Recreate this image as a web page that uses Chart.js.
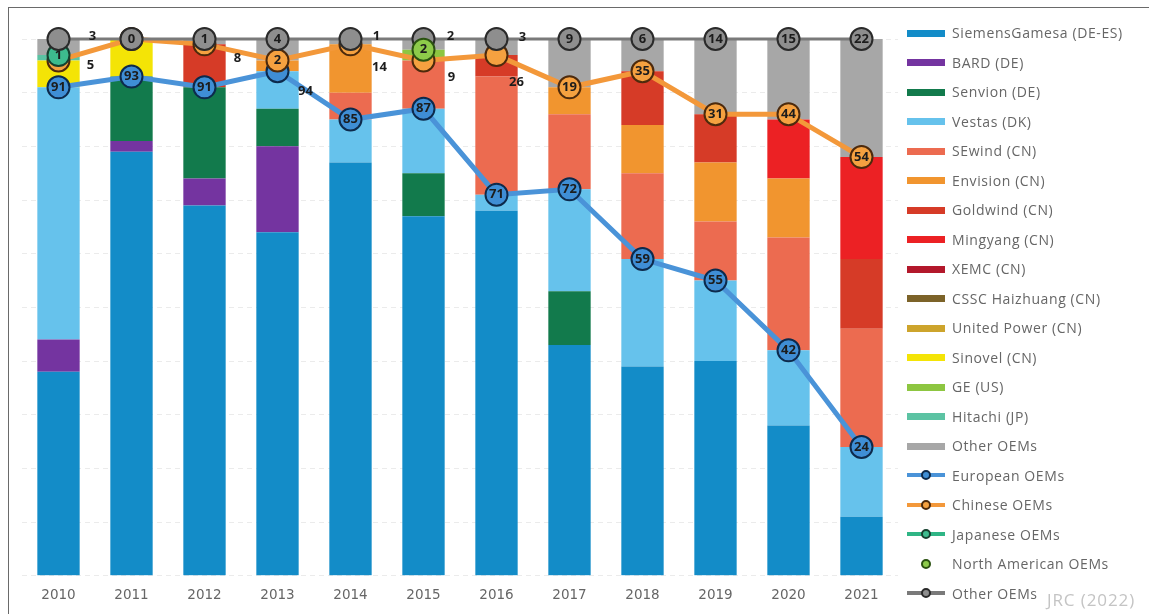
<!DOCTYPE html>
<html>
<head>
<meta charset="utf-8">
<script src="https://cdn.jsdelivr.net/npm/chart.js@4.4.1/dist/chart.umd.min.js"></script>
<style>
  html, body { margin: 0; padding: 0; background: #fff; }
  #wrap { position: relative; width: 1149px; height: 614px; overflow: hidden; font-family: "Open Sans", sans-serif; }
  #frame { position: absolute; left: 8px; top: 7px; width: 1160px; height: 620px; border-top: 1px solid #6a6a6a; border-left: 1px solid #6a6a6a; }
  canvas { position: absolute; left: 0; top: 0; }
  #legend { position: absolute; left: 907px; top: 18px; }
  .item { height: 29.5px; display: flex; align-items: center; font-size: 14px; letter-spacing: 0.6px; color: #666; white-space: nowrap; }
  .sw { position: relative; width: 38px; height: 20px; margin-right: 7px; flex: none; }
  .bar { position: absolute; left: 0; top: 7px; width: 38px; height: 7px; }
  .ln { position: absolute; left: 0; top: 8px; width: 38px; height: 4px; }
  .dot { position: absolute; left: 14px; top: 5px; width: 6px; height: 6px; border: 2px solid #222; border-radius: 50%; }
  #jrc { position: absolute; left: 1047px; top: 588px; font-size: 17px; letter-spacing: 0.9px; color: #c4c4c4; }
</style>
</head>
<body>
<div id="wrap">
  <div id="frame"></div>
  <canvas id="chart" width="1149" height="614"></canvas>
  <div id="legend"></div>
  <div id="jrc">JRC (2022)</div>
</div>
<script>
// market shares (%), 2010-2021
var years = ['2010', '2011', '2012', '2013', '2014', '2015', '2016', '2017', '2018', '2019', '2020', '2021'];

var siemensGamesa = [38, 79, 69, 64, 77, 67, 68, 43, 39, 40, 28, 11];
var bard          = [6, 2, 5, 16, 0, 0, 0, 0, 0, 0, 0, 0];
var senvion       = [0, 12, 17, 7, 0, 8, 0, 10, 0, 0, 0, 0];
var vestas        = [47, 0, 0, 7, 8, 12, 3, 19, 20, 15, 14, 13];
var sewind        = [0, 0, 0, 0, 5, 9, 22, 14, 16, 11, 21, 22];
var envision      = [0, 0, 0, 2, 9, 0, 0, 5, 9, 11, 11, 0];
var goldwind      = [0, 0, 8, 0, 0, 0, 4, 0, 10, 9, 0, 13];
var mingyang      = [0, 0, 0, 0, 0, 0, 0, 0, 0, 0, 11, 19];
var xemc          = [0, 0, 0, 0, 0, 0, 0, 0, 0, 0, 0, 0];
var cssc          = [0, 0, 0, 0, 0, 0, 0, 0, 0, 0, 0, 0];
var unitedPower   = [0, 0, 0, 0, 0, 0, 0, 0, 0, 0, 0, 0];
var sinovel       = [5, 7, 0, 0, 0, 0, 0, 0, 0, 0, 0, 0];
var ge            = [0, 0, 0, 0, 0, 2, 0, 0, 0, 0, 0, 0];
var hitachi       = [1, 0, 0, 0, 0, 0, 0, 0, 0, 0, 0, 0];
var otherBars     = [3, 0, 1, 4, 1, 2, 3, 9, 6, 14, 15, 22];

// regional totals (labels on the markers)
var europeanOems     = [91, 93, 91, 94, 85, 87, 71, 72, 59, 55, 42, 24];
var chineseOems      = [5, 7, 8, 2, 14, 9, 26, 19, 35, 31, 44, 54];
var japaneseOems     = [1, null, null, null, null, null, null, null, null, null, null, null];
var northAmericanOems = [null, null, null, null, null, 2, null, null, null, null, null, null];
var otherOems        = [3, 0, 1, 4, 1, 2, 3, 9, 6, 14, 15, 22];

// markers sit on top of their region's block, so stack the totals
function upTo(lists, i) {
  var s = 0;
  lists.forEach(function(l) { s += l[i] || 0; });
  return Math.min(s, 100);
}
function cumulative(lists, own) {
  return own.map(function(v, i) { return v == null ? null : upTo(lists, i); });
}

function barSet(label, data, color) {
  return { label: label, data: data, backgroundColor: color, stack: 'oem', order: 10 };
}

function lineSet(label, data, shares, line, fill, edge, order, offsets) {
  return {
    type: 'line', label: label, data: data, shares: shares, labelOffsets: offsets || [],
    borderColor: line, borderWidth: 5, tension: 0, clip: false,
    pointRadius: 11, pointHoverRadius: 11, pointBorderWidth: 2,
    pointBackgroundColor: fill, pointBorderColor: edge,
    stack: label, order: order
  };
}

var datasets = [
  barSet('SiemensGamesa (DE-ES)', siemensGamesa, '#138cc8'),
  barSet('BARD (DE)', bard, '#7434a0'),
  barSet('Senvion (DE)', senvion, '#127a4c'),
  barSet('Vestas (DK)', vestas, '#66c2ec'),
  barSet('SEwind (CN)', sewind, '#ec6b50'),
  barSet('Envision (CN)', envision, '#f1952f'),
  barSet('Goldwind (CN)', goldwind, '#d63b27'),
  barSet('Mingyang (CN)', mingyang, '#ec2124'),
  barSet('XEMC (CN)', xemc, '#b3182b'),
  barSet('CSSC Haizhuang (CN)', cssc, '#7c6329'),
  barSet('United Power (CN)', unitedPower, '#cda42c'),
  barSet('Sinovel (CN)', sinovel, '#f4e406'),
  barSet('GE (US)', ge, '#8dc641'),
  barSet('Hitachi (JP)', hitachi, '#5cc3a3'),
  barSet('Other OEMs', otherBars, '#a7a7a7'),
  lineSet('European OEMs', cumulative([europeanOems], europeanOems), europeanOems,
    '#4a93d8', '#3f8ed5', '#0d2a4c', 4,
    [null, null, null, [28, 20]]),
  lineSet('Chinese OEMs', cumulative([europeanOems, chineseOems], chineseOems), chineseOems,
    '#f3983a', '#f5a140', '#4d2a0c', 3,
    [[32, 5], 'hide', [33, 14], null, [29, 23], [28, 17], [20, 27]]),
  lineSet('Japanese OEMs', cumulative([europeanOems, chineseOems, japaneseOems], japaneseOems), japaneseOems,
    '#2fb585', '#3dbb8e', '#16402f', 2),
  lineSet('North American OEMs', cumulative([europeanOems, chineseOems, japaneseOems, northAmericanOems], northAmericanOems), northAmericanOems,
    '#8dcb4a', '#8dcb4a', '#2b5211', 0),
  lineSet('Other OEMs', otherOems.map(function() { return 100; }), otherOems,
    '#7a7a7a', '#8e8e8e', '#2a2a2a', 1,
    [[34, -3], null, null, null, [26, -3], [27, -3], [26, -2]])
];
datasets[18].showLine = false;
datasets[19].borderWidth = 3;

// numbers on / next to the markers
var markerLabels = {
  id: 'markerLabels',
  afterDatasetDraw: function(chart, args) {
    var ds = chart.data.datasets[args.index];
    if (!ds.shares) return;
    var ctx = chart.ctx;
    ctx.save();
    ctx.font = 'bold 13px "Open Sans"';
    ctx.fillStyle = '#1c1c1c';
    ctx.textAlign = 'center';
    ctx.textBaseline = 'middle';
    args.meta.data.forEach(function(pt, i) {
      var v = ds.shares[i];
      if (v == null) return;
      var off = ds.labelOffsets[i];
      if (off === 'hide') return;
      ctx.fillText(String(v), pt.x + (off ? off[0] : 0), pt.y + (off ? off[1] : 0));
    });
    ctx.restore();
  }
};

var ctx = document.getElementById('chart').getContext('2d');
var chart = new Chart(ctx, {
  type: 'bar',
  data: { labels: years, datasets: datasets },
  options: {
    responsive: false,
    animation: false,
    events: [],
    layout: { padding: { left: 22, right: 251, top: 39, bottom: -2 } },
    datasets: { bar: { categoryPercentage: 1, barPercentage: 0.58 } },
    plugins: { legend: { display: false }, tooltip: { enabled: false } },
    scales: {
      x: {
        stacked: true,
        grid: { display: false, drawTicks: false },
        border: { display: false },
        ticks: { color: '#666', padding: 12, font: { family: 'DejaVu Sans', size: 13.5 } }
      },
      y: {
        stacked: true, min: 0, max: 100,
        ticks: { display: false, stepSize: 10 },
        grid: { color: '#ebebeb', drawTicks: false },
        border: { display: false, dash: [5, 4] }
      }
    }
  },
  plugins: [markerLabels]
});

// legend on the right, built from the datasets
var legendEl = document.getElementById('legend');
chart.data.datasets.forEach(function(ds) {
  var item = document.createElement('div');
  item.className = 'item';
  var sw = document.createElement('span');
  sw.className = 'sw';
  if (ds.type === 'line') {
    if (ds.showLine !== false) {
      var ln = document.createElement('span');
      ln.className = 'ln';
      ln.style.background = ds.borderColor;
      sw.appendChild(ln);
    }
    var dot = document.createElement('span');
    dot.className = 'dot';
    dot.style.background = ds.pointBackgroundColor;
    dot.style.borderColor = ds.pointBorderColor;
    sw.appendChild(dot);
  } else {
    var b = document.createElement('span');
    b.className = 'bar';
    b.style.background = ds.backgroundColor;
    sw.appendChild(b);
  }
  item.appendChild(sw);
  item.appendChild(document.createTextNode(ds.label));
  legendEl.appendChild(item);
});
</script>
</body>
</html>
